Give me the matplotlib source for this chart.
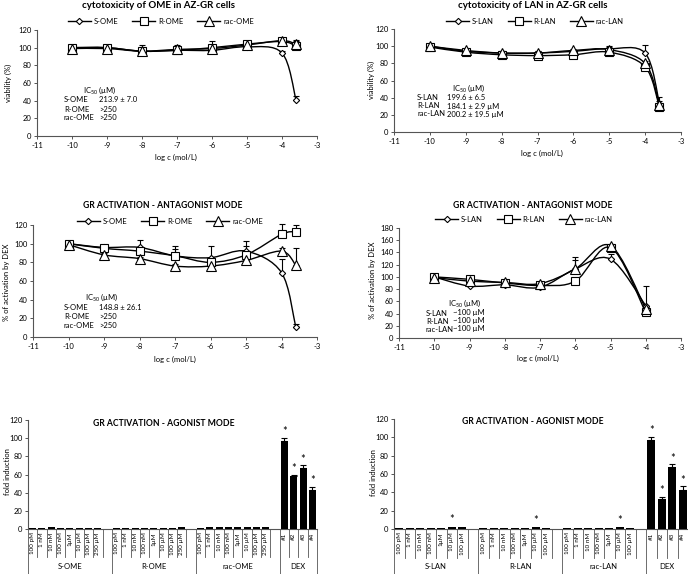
import numpy as np
import matplotlib
matplotlib.use('Agg')
import matplotlib.pyplot as plt
from matplotlib.path import Path
from matplotlib.patches import PathPatch
from matplotlib.lines import Line2D

plt.rcParams['font.family'] = ['Lato', 'DejaVu Sans']
plt.rcParams['axes.unicode_minus'] = False
plt.rcParams['mathtext.default'] = 'regular'

W, H = 688., 574.

#***** Data *****
logc_ome = [-10, -9, -8, -7, -6, -5, -4, -3.6]
logc_lan = [-10, -9, -8, -7, -6, -5, -4, -3.6]
logc_lan_ant = [-10, -9, -8, -7, -6, -5, -4]

# cytotoxicity OME (viability %)
s_ome_via = [100, 100, 96, 97, 97, 101, 94, 41]
s_ome_via_err = [2, 2, 3, 3, 3, 2, 2, 4]
r_ome_via = [100, 100, 96, 97, 100, 104, 107, 102]
r_ome_via_err = [2, 2, 7, 6, 7, 2, 3, 7]
rac_ome_via = [99, 99, 96, 98, 99, 103, 108, 104]
rac_ome_via_err = [2, 2, 3, 3, 3, 2, 2, 3]

# cytotoxicity LAN (viability %)
s_lan_via = [100, 94, 92, 92, 94, 97, 92, 33]
s_lan_via_err = [2, 2, 2, 2, 2, 3, 9, 3]
r_lan_via = [99, 93, 90, 89, 90, 93, 76, 29]
r_lan_via_err = [2, 2, 2, 2, 2, 2, 3, 3]
rac_lan_via = [100, 95, 92, 92, 95, 96, 80, 32]
rac_lan_via_err = [2, 2, 2, 2, 2, 3, 3, 9]

# antagonist mode OME (% of activation by DEX)
s_ome_ant = [100, 96, 96, 87, 85, 92, 69, 11]
s_ome_ant_err = [2, 2, 8, 10, 12, 11, 15, 3]
r_ome_ant = [100, 95, 92, 87, 80, 88, 110, 113]
r_ome_ant_err = [2, 3, 3, 7, 3, 10, 11, 7]
rac_ome_ant = [99, 88, 84, 76, 76, 82, 92, 77]
rac_ome_ant_err = [2, 2, 2, 2, 2, 2, 3, 18]

# antagonist mode LAN (% of activation by DEX)
s_lan_ant = [100, 85, 87, 83, 113, 129, 53]
s_lan_ant_err = [3, 2, 2, 2, 19, 8, 32]
r_lan_ant = [100, 96, 90, 86, 93, 148, 42]
r_lan_ant_err = [3, 2, 2, 2, 2, 3, 3]
rac_lan_ant = [99, 93, 91, 89, 113, 151, 48]
rac_lan_ant_err = [3, 2, 2, 2, 15, 3, 3]

# agonist mode (fold induction)
ome_conc = ['100 pM', '1 nM', '10 nM', '100 nM', '1µM', '10 µM', '100 µM', '250 µM']
s_ome_ago = [1, 1, 1.8, 1, 1, 1, 1, 1]
r_ome_ago = [1, 1, 1, 1, 1, 1, 1, 1.8]
rac_ome_ago = [1, 1.8, 1.8, 2.6, 1.8, 1.8, 2.6, 2.6]
lan_conc = ['100 pM', '1 nM', '10 nM', '100 nM', '1µM', '10 µM', '100 µM']
s_lan_ago = [1, 1, 1, 1, 1, 2.5, 2]
r_lan_ago = [1, 1, 1, 1, 1, 2.2, 1]
rac_lan_ago = [1, 1, 1, 1, 1, 2.2, 1]
lan_ago_star = [False, False, False, False, False, True, False]
dex_labels = ['#1', '#2', '#3', '#4']
dex_ome = [97, 58, 67, 43]
dex_ome_err = [3.5, 2, 3.5, 3.5]
dex_lan = [97, 33, 68, 43]
dex_lan_err = [3.5, 2, 2.5, 3.5]

FS = 5.5

def fx(x): return x / W
def fy(y): return 1. - y / H

def make_ax(fig, l, r, t, b):
    ax = fig.add_axes([fx(l), fy(b), (r - l) / W, (b - t) / H])
    for s in ['top', 'right']:
        ax.spines[s].set_visible(False)
    for s in ['left', 'bottom']:
        ax.spines[s].set_color('#555555')
        ax.spines[s].set_linewidth(0.8)
    ax.tick_params(labelsize=FS, length=2.5, width=0.7, color='#555555', pad=1.5)
    return ax

def smooth(ax, x, y):
    #Excel-like smoothed line (cubic bezier through the points)
    pts = np.column_stack([np.asarray(x, float), np.asarray(y, float)])
    n = len(pts)
    verts = [pts[0]]
    codes = [Path.MOVETO]
    for i in range(n - 1):
        p0 = pts[max(i - 1, 0)]
        p1 = pts[i]
        p2 = pts[i + 1]
        p3 = pts[min(i + 2, n - 1)]
        verts += [p1 + (p2 - p0) / 6., p2 - (p3 - p1) / 6., p2]
        codes += [Path.CURVE4] * 3
    ax.add_patch(PathPatch(Path(verts, codes), fill=False, ec='k', lw=1.0, zorder=2))

markers = [dict(marker='D', ms=3.2), dict(marker='s', ms=6), dict(marker='^', ms=6.5)]

def line_panel(fig, box, x, series, errs, names, ylim, ystep, ylabel, title, tsize, tpos, lpos, xlpos, ylpos, ic_head, ic_rows):
    l, r, t, b = box
    ax = make_ax(fig, l, r, t, b)
    for k in range(3):
        e = np.array(errs[k])
        ax.errorbar(x, series[k], yerr=[np.zeros_like(e), e], fmt='none', ecolor='k',
                    elinewidth=0.8, capsize=2, capthick=0.8, zorder=3, clip_on=False)
        smooth(ax, x, series[k])
        ax.plot(x, series[k], ls='none', mfc='white', mec='k', mew=0.8, zorder=4,
                clip_on=False, **markers[k])
    ax.set_xlim(-11, -3)
    ax.set_xticks(range(-11, -2))
    ax.set_ylim(*ylim)
    ax.set_yticks(np.arange(ylim[0], ylim[1] + 1, ystep))
    handles = [Line2D([], [], color='k', lw=1, mfc='white', mec='k', mew=0.8, **markers[k]) for k in range(3)]
    fig.legend(handles, names, loc='center', bbox_to_anchor=(fx(lpos[0]), fy(lpos[1])), ncol=3,
               frameon=False, fontsize=FS, handlelength=3, columnspacing=1.8, handletextpad=0.4)
    fig.text(fx(tpos[0]), fy(tpos[1]), title, ha='center', va='center', fontsize=tsize, fontweight='bold')
    fig.text(fx(xlpos[0]), fy(xlpos[1]), 'log c (mol/L)', ha='center', va='center', fontsize=FS)
    fig.text(fx(ylpos[0]), fy(ylpos[1]), ylabel, ha='center', va='center', fontsize=FS, rotation=90)
    fig.text(fx(ic_head[0]), fy(ic_head[1]), r'IC$_{50}$ (µM)', ha='left', va='center', fontsize=FS)
    for (xa, xb, yy, name, val) in ic_rows:
        fig.text(fx(xa), fy(yy), name, ha='left', va='center', fontsize=FS)
        fig.text(fx(xb), fy(yy), val, ha='left', va='center', fontsize=FS)
    return ax

def bar_panel(fig, box, groups, title, tpos, ylpos):
    l, r, t, b = box
    ax = make_ax(fig, l, r, t, b)
    ax.tick_params(axis='x', length=0, labelbottom=False)
    tr = ax.get_xaxis_transform()
    pos = 0
    bounds = [-0.5]
    for gi, (gname, labs, vals, errs, stars) in enumerate(groups):
        xs = np.arange(pos, pos + len(labs))
        ax.bar(xs, vals, 0.75, color='k', zorder=3)
        if errs is not None:
            ax.errorbar(xs, vals, yerr=[np.zeros(len(errs)), errs], fmt='none', ecolor='k',
                        elinewidth=0.8, capsize=2, capthick=0.8, zorder=4)
        for j, xv in enumerate(xs):
            ax.text(xv, -0.03, labs[j], transform=tr, rotation=90, ha='center', va='top', fontsize=4.5)
            if stars[j]:
                top = vals[j] + (errs[j] if errs is not None else 1)
                ax.text(xv, top + 0.5, '*', ha='center', va='bottom', fontsize=8)
        pos += len(labs)
        if gi < len(groups) - 1:
            pos += 1
        start = bounds[-1]
        bounds.append(pos - 0.5)
        ax.text((start + pos - 0.5) / 2., -0.34, gname, transform=tr, ha='center', va='center', fontsize=FS)
    for k in range(pos + 1):
        xb = k - 0.5
        lo = -0.41 if xb in bounds else -0.26
        ax.plot([xb, xb], [0, lo], transform=tr, color='#555555', lw=0.6, clip_on=False)
    ax.set_xlim(-0.5, pos - 0.5)
    ax.set_ylim(0, 120)
    ax.set_yticks(range(0, 121, 20))
    fig.text(fx(tpos[0]), fy(tpos[1]), title, ha='center', va='center', fontsize=6.2, fontweight='bold')
    fig.text(fx(ylpos[0]), fy(ylpos[1]), 'fold induction', ha='center', va='center', fontsize=FS, rotation=90)
    return ax

fig = plt.figure(figsize=(6.88, 5.74), dpi=100)

line_panel(fig, (37, 317, 30, 136), logc_ome,
           [s_ome_via, r_ome_via, rac_ome_via], [s_ome_via_err, r_ome_via_err, rac_ome_via_err],
           ['S-OME', 'R-OME', 'rac-OME'], (0, 120), 20, 'viability (%)',
           'cytotoxicity of OME in AZ-GR cells', 7, (159, 6), (161, 21), (176, 157), (8, 83),
           (83, 90), [(64, 99, 99, 'S-OME', '213.9 ± 7.0'), (64, 99, 109, 'R-OME', '>250'),
                      (64, 99, 118, 'rac-OME', '>250')])

line_panel(fig, (394, 681, 29, 132), logc_lan,
           [s_lan_via, r_lan_via, rac_lan_via], [s_lan_via_err, r_lan_via_err, rac_lan_via_err],
           ['S-LAN', 'R-LAN', 'rac-LAN'], (0, 120), 20, 'viability (%)',
           'cytotoxicity of LAN in AZ-GR cells', 7, (533, 6), (535, 21), (542, 153), (371, 80),
           (452, 88), [(417, 447, 98, 'S-LAN', '199.6 ± 6.5'), (417, 447, 106, 'R-LAN', '184.1 ± 2.9 µM'),
                       (417, 447, 114, 'rac-LAN', '200.2 ± 19.5 µM')])

line_panel(fig, (33, 317, 225, 337), logc_ome,
           [s_ome_ant, r_ome_ant, rac_ome_ant], [s_ome_ant_err, r_ome_ant_err, rac_ome_ant_err],
           ['S-OME', 'R-OME', 'rac-OME'], (0, 120), 20, '% of activation by DEX',
           'GR ACTIVATION - ANTAGONIST MODE', 6.2, (163, 205), (170, 221), (175, 359), (7, 282),
           (85, 297), [(64, 99, 307, 'S-OME', '148.8 ± 26.1'), (64, 99, 316.5, 'R-OME', '>250'),
                       (64, 99, 325.5, 'rac-OME', '>250')])

line_panel(fig, (399, 681, 228, 338), logc_lan_ant,
           [s_lan_ant, r_lan_ant, rac_lan_ant], [s_lan_ant_err, r_lan_ant_err, rac_lan_ant_err],
           ['S-LAN', 'R-LAN', 'rac-LAN'], (0, 180), 20, '% of activation by DEX',
           'GR ACTIVATION - ANTAGONIST MODE', 6.2, (533, 205), (524, 219), (538, 358), (372, 280),
           (448, 303), [(426, 453, 313, 'S-LAN', '~100 µM'), (426, 453, 321, 'R-LAN', '~100 µM'),
                        (426, 453, 329, 'rac-LAN', '~100 µM')])

no8 = [False] * 8
bar_panel(fig, (28, 317, 420, 529),
          [('S-OME', ome_conc, s_ome_ago, None, no8),
           ('R-OME', ome_conc, r_ome_ago, None, no8),
           ('rac-OME', ome_conc, rac_ome_ago, None, no8),
           ('DEX', dex_labels, dex_ome, dex_ome_err, [True] * 4)],
          'GR ACTIVATION - AGONIST MODE', (164, 423), (8, 472))

bar_panel(fig, (394, 688, 419, 529),
          [('S-LAN', lan_conc, s_lan_ago, None, lan_ago_star),
           ('R-LAN', lan_conc, r_lan_ago, None, lan_ago_star),
           ('rac-LAN', lan_conc, rac_lan_ago, None, lan_ago_star),
           ('DEX', dex_labels, dex_lan, dex_lan_err, [True] * 4)],
          'GR ACTIVATION - AGONIST MODE', (533, 422), (374, 473))

fig.savefig('out.png', dpi=100)
